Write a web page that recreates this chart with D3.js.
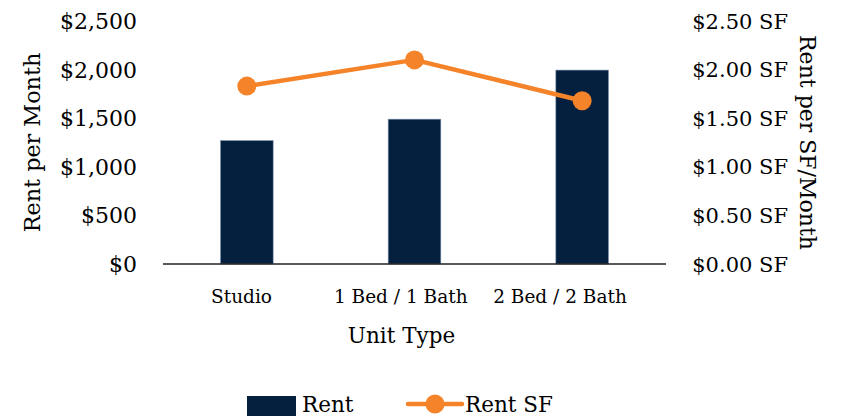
<!DOCTYPE html>
<html>
<head>
<meta charset="utf-8">
<script src="https://cdn.jsdelivr.net/npm/d3@7"></script>
<style>
  html, body { margin: 0; padding: 0; background: #fff; }
  svg { display: block; font-family: "DejaVu Serif", serif; }
</style>
</head>
<body>
<svg id="chart" width="850" height="416"></svg>
<script>
// Rent by unit type
const categories = ["Studio", "1 Bed / 1 Bath", "2 Bed / 2 Bath"];
const rentValues = [1270, 1490, 1995];          // $ per month
const rentSfValues = [1.83, 2.10, 1.68];        // $ per SF per month
const leftTicks = [0, 500, 1000, 1500, 2000, 2500];
const rightTicks = [0, 0.5, 1.0, 1.5, 2.0, 2.5];

const navy = "#051F3F";
const orange = "#F5832A";
const ink = "#000";

const svg = d3.select("#chart");

const plot = { left: 163, right: 666, top: 21, bottom: 264 };

const x = d3.scaleBand()
  .domain(categories)
  .range([plot.left, plot.right])
  .paddingInner(0.686)
  .paddingOuter(0.343);

// category label positions along the axis
const xLabel = d3.scalePoint()
  .domain(categories)
  .range([241.5, 560]);

const yLeft = d3.scaleLinear().domain([0, 2500]).range([plot.bottom, plot.top]);
const yRight = d3.scaleLinear().domain([0, 2.5]).range([plot.bottom, plot.top]);

// left axis labels
const fmtDollar = d3.format("$,.0f");
svg.append("g")
  .selectAll("text")
  .data(leftTicks)
  .join("text")
  .attr("x", 137)
  .attr("y", d => yLeft(d))
  .attr("dy", "0.36em")
  .attr("text-anchor", "end")
  .attr("font-size", 22)
  .attr("fill", ink)
  .text(d => fmtDollar(d));

// right axis labels
svg.append("g")
  .selectAll("text")
  .data(rightTicks)
  .join("text")
  .attr("x", 788)
  .attr("y", d => yRight(d))
  .attr("dy", "0.36em")
  .attr("text-anchor", "end")
  .attr("font-size", 21)
  .attr("fill", ink)
  .text(d => "$" + d.toFixed(2) + " SF");

// bars
svg.append("g")
  .selectAll("rect")
  .data(categories.map((c, i) => ({ c, v: rentValues[i] })))
  .join("rect")
  .attr("x", d => x(d.c))
  .attr("width", x.bandwidth())
  .attr("y", d => yLeft(d.v))
  .attr("height", d => yLeft(0) - yLeft(d.v))
  .attr("fill", navy)
  .attr("stroke", "#7f93b0")
  .attr("stroke-width", 0.6);

// baseline
svg.append("line")
  .attr("x1", plot.left).attr("x2", plot.right)
  .attr("y1", yLeft(0)).attr("y2", yLeft(0))
  .attr("stroke", "#222")
  .attr("stroke-width", 1.6);

// Rent SF line
const pts = categories.map((c, i) => ({ c, v: rentSfValues[i] }));
const line = d3.line()
  .x(d => x(d.c) + x.bandwidth() / 2)
  .y(d => yRight(d.v));
svg.append("path")
  .datum(pts)
  .attr("d", line)
  .attr("fill", "none")
  .attr("stroke", orange)
  .attr("stroke-width", 4.5)
  .attr("stroke-linejoin", "round");
svg.append("g")
  .selectAll("circle")
  .data(pts)
  .join("circle")
  .attr("cx", d => x(d.c) + x.bandwidth() / 2)
  .attr("cy", d => yRight(d.v))
  .attr("r", 9.5)
  .attr("fill", orange);

// category labels
svg.append("g")
  .selectAll("text")
  .data(categories)
  .join("text")
  .attr("x", d => xLabel(d))
  .attr("y", 303)
  .attr("text-anchor", "middle")
  .attr("font-size", 18.5)
  .attr("fill", ink)
  .text(d => d);

// axis titles
svg.append("text")
  .attr("x", 401.5).attr("y", 343)
  .attr("text-anchor", "middle")
  .attr("font-size", 21.5)
  .attr("fill", ink)
  .text("Unit Type");

svg.append("text")
  .attr("transform", "translate(40,142.5) rotate(-90)")
  .attr("text-anchor", "middle")
  .attr("font-size", 22.3)
  .attr("fill", ink)
  .text("Rent per Month");

svg.append("text")
  .attr("transform", "translate(800,142.5) rotate(90)")
  .attr("text-anchor", "middle")
  .attr("font-size", 22)
  .attr("fill", ink)
  .text("Rent per SF/Month");

// legend
const legend = svg.append("g");
legend.append("rect")
  .attr("x", 247).attr("y", 396)
  .attr("width", 49).attr("height", 20)
  .attr("fill", navy);
legend.append("text")
  .attr("x", 302).attr("y", 412)
  .attr("font-size", 21.5)
  .attr("fill", ink)
  .text("Rent");
legend.append("line")
  .attr("x1", 408).attr("x2", 462)
  .attr("y1", 404).attr("y2", 404)
  .attr("stroke", orange)
  .attr("stroke-width", 4.5)
  .attr("stroke-linecap", "round");
legend.append("circle")
  .attr("cx", 435).attr("cy", 404)
  .attr("r", 9.5)
  .attr("fill", orange);
legend.append("text")
  .attr("x", 465).attr("y", 412)
  .attr("font-size", 21.5)
  .attr("fill", ink)
  .text("Rent SF");
</script>
</body>
</html>
